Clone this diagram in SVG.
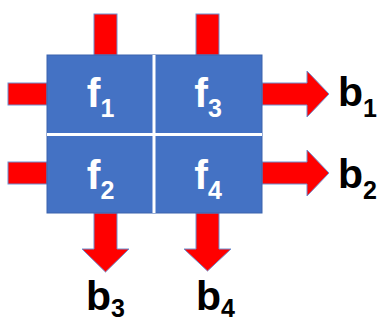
<svg xmlns="http://www.w3.org/2000/svg" width="378" height="323" viewBox="0 0 378 323">
<style>
.arrow{fill:#FF0000;stroke:#6F8FCF;stroke-width:1}
.cell{fill:#4472C4}
.div{stroke:#FFFFFF;stroke-width:3}
.ft{font-family:"Liberation Sans",Arial,sans-serif;font-weight:bold;font-size:41px;fill:#FFFFFF}
.bt{font-family:"Liberation Sans",Arial,sans-serif;font-weight:bold;font-size:41px;fill:#000000}
.sub{font-size:25px}
</style>
<rect x="0" y="0" width="378" height="323" fill="#FFFFFF"/>
<g id="connectors">
<rect class="arrow" x="94" y="14" width="23" height="41"/>
<rect class="arrow" x="196" y="14" width="23" height="41"/>
<rect class="arrow" x="8" y="83" width="39" height="22"/>
<rect class="arrow" x="8" y="162" width="39" height="22"/>
<polygon class="arrow" points="262,83 307,83 307,71 329,94 307,117 307,105 262,105"/>
<polygon class="arrow" points="262,162 307,162 307,150 329,173 307,196 307,184 262,184"/>
<polygon class="arrow" points="94,213 117,213 117,249 129,249 105.5,272 82,249 94,249"/>
<polygon class="arrow" points="196,213 219,213 219,249 231,249 207.5,271 184,249 196,249"/>
</g>
<g id="block">
<rect class="cell" x="47" y="55" width="215" height="158" stroke="#3A63AD" stroke-width="1"/>
<line class="div" x1="154" y1="55" x2="154" y2="213"/>
<line class="div" x1="47" y1="134.5" x2="262" y2="134.5"/>
</g>
<g id="f1"><text class="ft" x="100.5" y="107" text-anchor="middle">f<tspan class="sub" dy="10">1</tspan></text></g>
<g id="f3"><text class="ft" x="208" y="107" text-anchor="middle">f<tspan class="sub" dy="10">3</tspan></text></g>
<g id="f2"><text class="ft" x="100.5" y="189" text-anchor="middle">f<tspan class="sub" dy="10">2</tspan></text></g>
<g id="f4"><text class="ft" x="208" y="189" text-anchor="middle">f<tspan class="sub" dy="10">4</tspan></text></g>
<g id="b1"><text class="bt" x="338" y="106">b<tspan class="sub" dy="11">1</tspan></text></g>
<g id="b2"><text class="bt" x="338" y="188">b<tspan class="sub" dy="11">2</tspan></text></g>
<g id="b3"><text class="bt" x="86" y="310">b<tspan class="sub" dy="7">3</tspan></text></g>
<g id="b4"><text class="bt" x="196" y="310">b<tspan class="sub" dy="7">4</tspan></text></g>
</svg>
